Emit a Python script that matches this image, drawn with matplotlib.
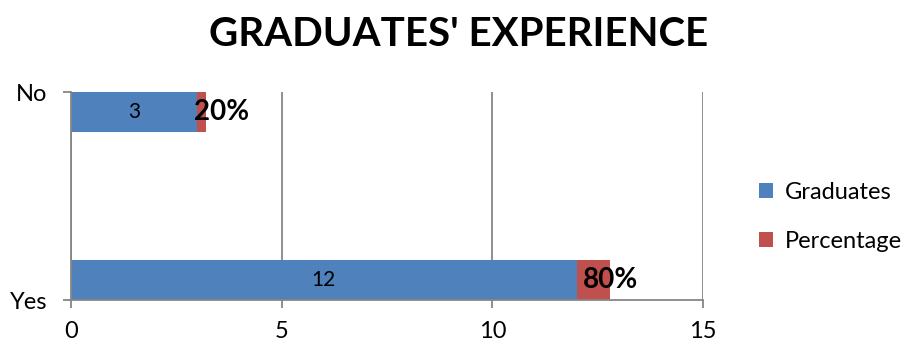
import matplotlib.pyplot as plt

plt.rcParams['font.family'] = ['Lato', 'DejaVu Sans']

# Data
categories = ['Yes', 'No']
graduates = [12, 3]
percentage = [0.8, 0.2]
pct_labels = ['80%', '20%']
pct_offsets = [0, 11]  # label shift in points

blue = '#4F81BD'
red = '#C0504D'
gray = '#868686'

fig = plt.figure(figsize=(9.03, 3.47), dpi=100)
ax = fig.add_axes([0.0786, 0.1354, 0.70, 0.5994])

ypos = [0, 1]
h = 0.19
aligns = [0, 1 - h]  # Yes sits at bottom edge, No at top edge
bars_g = ax.barh(aligns, graduates, height=h, align='edge',
                 color=blue, label='Graduates', zorder=3)
bars_p = ax.barh(aligns, percentage, left=graduates, height=h,
                 align='edge', color=red, label='Percentage', zorder=3)

for b, v in zip(bars_g, graduates):
    ax.text(b.get_x() + b.get_width() / 2, b.get_y() + b.get_height() / 2,
            str(v), ha='center', va='center', fontsize=15, zorder=4)

for b, lab, off in zip(bars_p, pct_labels, pct_offsets):
    ax.annotate(lab, (b.get_x() + b.get_width(), b.get_y() + b.get_height() / 2),
                xytext=(off, 0), textcoords='offset points', ha='center',
                va='center', fontsize=20, fontweight='bold', zorder=5)

ax.set_xlim(0, 15)
ax.set_ylim(0, 1)
ax.set_xticks([0, 5, 10, 15])
ax.set_yticks(ypos)
ax.set_yticklabels(categories)
ax.tick_params(axis='both', colors=gray, labelcolor='black', labelsize=17,
               length=6, width=1.3, direction='out')
ax.tick_params(axis='x', pad=9)
ax.tick_params(axis='y', pad=11)
ax.grid(axis='x', color=gray, lw=1.3, zorder=1)
ax.set_axisbelow(True)
for s in ['top', 'right']:
    ax.spines[s].set_visible(False)
for s in ['left', 'bottom']:
    ax.spines[s].set_color(gray)
    ax.spines[s].set_linewidth(1.3)
    ax.spines[s].set_zorder(4)

fig.text(0.508, 0.9, "GRADUATES' EXPERIENCE", ha='center', va='center',
         fontsize=29, fontweight='bold')

ax.legend(loc='center left', bbox_to_anchor=(1.055, 0.4), frameon=False,
          fontsize=17, handlelength=0.6, handleheight=0.6, labelspacing=1.2,
          handletextpad=0.5)

fig.savefig('out.png', dpi=100)
